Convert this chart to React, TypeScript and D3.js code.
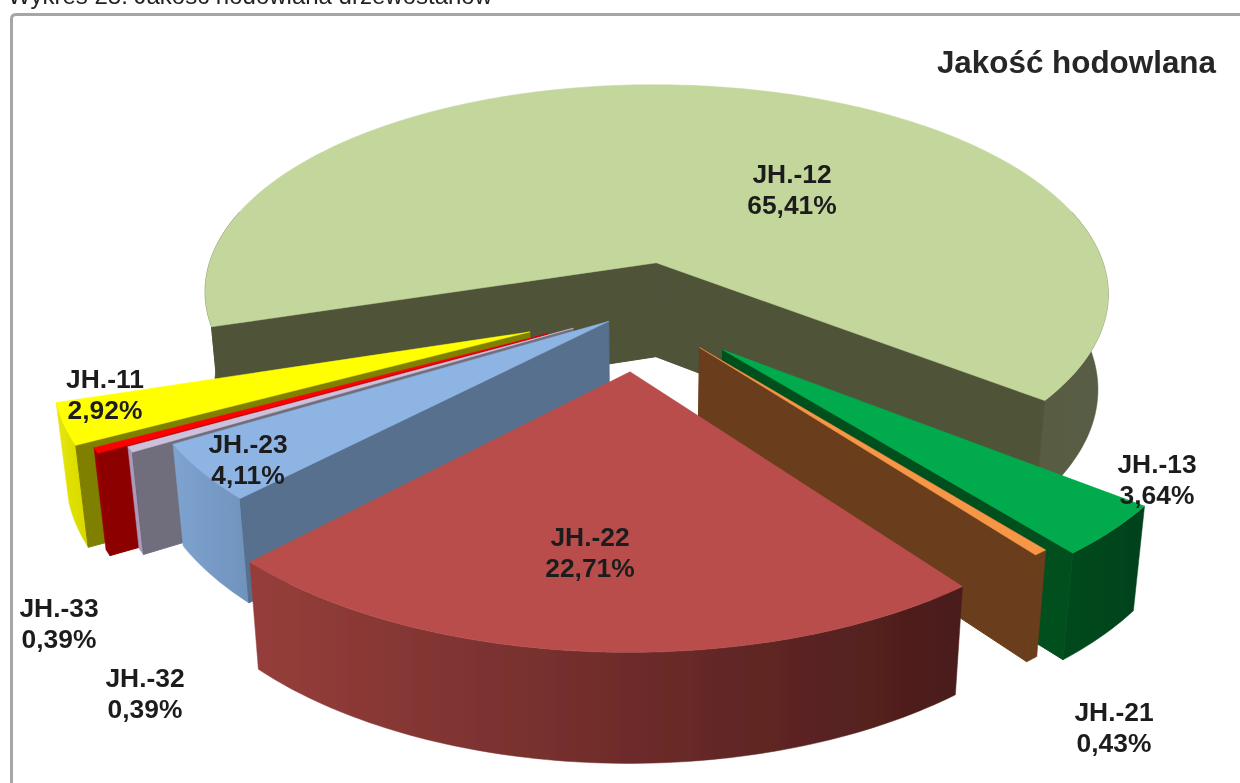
import React from "react";
import * as d3 from "d3";

const CATEGORIES = ["JH.-11", "JH.-12", "JH.-13", "JH.-21", "JH.-22", "JH.-23", "JH.-32", "JH.-33"];
const SHARES = [2.92, 65.41, 3.64, 0.43, 22.71, 4.11, 0.39, 0.39];
const SHARE_LABELS = ["2,92%", "65,41%", "3,64%", "0,43%", "22,71%", "4,11%", "0,39%", "0,39%"];
const EXPLODE = [0.25, 0.23, 0.25, 0.21, 0.27, 0.08, 0.16, 0.22];
const DRAW_ORDER = [1, 2, 3, 0, 7, 6, 5, 4];

const TOP_COLORS = ["#ffff00", "#c3d69b", "#00aa4d", "#f79646", "#b94e4c", "#8eb4e3", "#ccc0da", "#ff0000"];
const CUT_COLORS = ["#7f7f00", "#4f5339", "#00501f", "#6b3d1a", "#6e2b2a", "#566f8e", "#6f6d7c", "#8c0000"];
const WALL_FROM = ["#e6e60a", "#4f5339", "#00491f", "#6b3d1a", "#963e3b", "#7ea3d0", "#a89ab8", "#a00000"];
const WALL_TO = ["#d8d800", "#595d44", "#00421c", "#6b3d1a", "#4a1c1b", "#7093bd", "#a89ab8", "#8c0000"];

const LABEL_X = [105, 792, 1157, 1114, 590, 248, 145, 59];
const LABEL_Y = [388, 183, 473, 721, 546, 453, 687, 617];

const W = 1240;
const H = 783;
const CX = 638;
const CY = 310.5;
const RX = 462;
const RY = 218;
const PERSP = 0.15;
const DEPTH = 96;
const SHRINK = 0.022;
const START_DEG = 152;

const rad = (d: number) => (d * Math.PI) / 180;

function project(x: number, y: number, z: number): [number, number] {
  const s = 1 / (1 - PERSP * y);
  const f = 1 - SHRINK * z;
  return [CX + RX * x * s * f, CY + RY * y * s * f + DEPTH * z * s];
}

const pieLayout = d3
  .pie<number>()
  .sort(null)
  .startAngle(rad(START_DEG))
  .endAngle(rad(START_DEG + 360));

const line = d3.line<[number, number]>().x((d) => d[0]).y((d) => d[1]);

function sampleAngles(a0: number, a1: number): number[] {
  const n = Math.max(2, Math.ceil(((a1 - a0) * 180) / Math.PI));
  return d3.range(n + 1).map((i) => a0 + ((a1 - a0) * i) / n);
}

function wallRanges(a0: number, a1: number): [number, number][] {
  const windows: [number, number][] = [
    [rad(-15), rad(195)],
    [rad(345), rad(555)],
  ];
  const out: [number, number][] = [];
  windows.forEach(([lo, hi]) => {
    const s = Math.max(a0, lo);
    const e = Math.min(a1, hi);
    if (e > s) out.push([s, e]);
  });
  return out;
}

export default function App() {
  const arcs = pieLayout(SHARES);
  const shapes = arcs.map((arc, i) => {
    const mid = (arc.startAngle + arc.endAngle) / 2;
    const ox = Math.cos(mid) * EXPLODE[i];
    const oy = Math.sin(mid) * EXPLODE[i];
    const rim = (t: number, z: number) => project(ox + Math.cos(t), oy + Math.sin(t), z);
    const apex = (z: number) => project(ox, oy, z);
    const top: [number, number][] = [apex(0), ...sampleAngles(arc.startAngle, arc.endAngle).map((t) => rim(t, 0))];
    const walls = wallRanges(arc.startAngle, arc.endAngle).map(([s, e]) => {
      const ts = sampleAngles(s, e);
      return [...ts.map((t) => rim(t, 0)), ...ts.slice().reverse().map((t) => rim(t, 1))] as [number, number][];
    });
    const camX = -ox;
    const camY = 1 / PERSP - oy;
    const cuts: [number, number][][] = [];
    const a = arc.startAngle;
    if (Math.sin(a) * camX - Math.cos(a) * camY > 0) {
      cuts.push([apex(0), rim(a, 0), rim(a, 1), apex(1)]);
    }
    const b = arc.endAngle;
    if (-Math.sin(b) * camX + Math.cos(b) * camY > 0) {
      cuts.push([apex(0), rim(b, 0), rim(b, 1), apex(1)]);
    }
    const xs = walls.flat().map((p) => p[0]);
    return { i, top, walls, cuts, x0: d3.min(xs) ?? 0, x1: d3.max(xs) ?? 1 };
  });

  return (
    <svg
      width={W}
      height={H}
      viewBox={`0 0 ${W} ${H}`}
      style={{ position: "absolute", left: 0, top: 0, display: "block", background: "#fff" }}
      fontFamily="'Liberation Sans', Arial, sans-serif"
    >
      <defs>
        <filter id="soft" x="-2%" y="-2%" width="104%" height="104%">
          <feGaussianBlur stdDeviation="0.55" />
        </filter>
        {shapes.map((s) => (
          <linearGradient key={s.i} id={`wall${s.i}`} gradientUnits="userSpaceOnUse" x1={s.x0} x2={s.x1} y1={0} y2={0}>
            <stop offset="0" stopColor={WALL_FROM[s.i]} />
            <stop offset="1" stopColor={WALL_TO[s.i]} />
          </linearGradient>
        ))}
      </defs>
      <g filter="url(#soft)">
        <text x={8} y={4} fontSize={24} fill="#222">Wykres 28. Jakość hodowlana drzewostanów</text>
        <path d={`M${W + 4},14.5 H16 Q11.5,14.5 11.5,19 V${H + 4}`} fill="none" stroke="#a6a6a6" strokeWidth={3} />
        {DRAW_ORDER.map((k) => {
          const s = shapes[k];
          return (
            <g key={k}>
              {s.walls.map((w, j) => (
                <path key={j} d={(line(w) ?? "") + "Z"} fill={`url(#wall${k})`} stroke={`url(#wall${k})`} strokeWidth={0.5} />
              ))}
              {s.cuts.map((c, j) => (
                <path key={j} d={(line(c) ?? "") + "Z"} fill={CUT_COLORS[k]} stroke={CUT_COLORS[k]} strokeWidth={1} />
              ))}
              <path d={(line(s.top) ?? "") + "Z"} fill={TOP_COLORS[k]} stroke={TOP_COLORS[k]} strokeWidth={0.5} />
            </g>
          );
        })}
        <text x={1216} y={73} textAnchor="end" fontSize={31.4} fontWeight="bold" fill="#262626">Jakość hodowlana</text>
        {CATEGORIES.map((c, i) => (
          <text key={c} textAnchor="middle" fontSize={26.4} fontWeight="bold" fill="#1f1f1f">
            <tspan x={LABEL_X[i]} y={LABEL_Y[i]}>{c}</tspan>
            <tspan x={LABEL_X[i]} y={LABEL_Y[i] + 31}>{SHARE_LABELS[i]}</tspan>
          </text>
        ))}
      </g>
    </svg>
  );
}
